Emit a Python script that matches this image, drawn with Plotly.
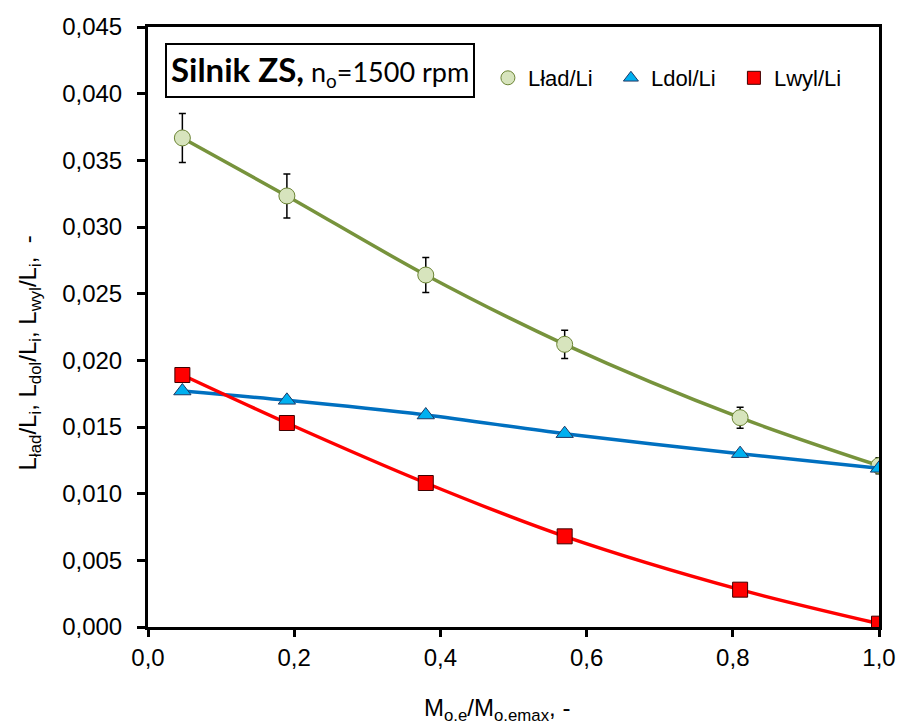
import plotly.graph_objects as go

# Relative load (M_o.e / M_o.emax)
load = [0.047, 0.19, 0.38, 0.57, 0.81, 1.0]

# Work ratios
l_lad = [0.03668, 0.03233, 0.02640, 0.02120, 0.01570, 0.01210]
l_lad_err = [0.00184, 0.00165, 0.00132, 0.00106, 0.00079, 0.00060]
l_dol = [0.01770, 0.01700, 0.01590, 0.01450, 0.01300, 0.01190]
l_wyl = [0.01890, 0.01530, 0.01080, 0.00680, 0.00280, 0.00025]

y_ticks = [0.000, 0.005, 0.010, 0.015, 0.020, 0.025, 0.030, 0.035, 0.040, 0.045]
x_ticks = [0.0, 0.2, 0.4, 0.6, 0.8, 1.0]

AX_FONT = dict(family="Liberation Sans, Arial", size=24, color="black")

GREEN, GREEN_FILL = "#77933C", "#D7E4BD"
BLUE, BLUE_FILL = "#0070C0", "#00B0F0"
RED = "#FF0000"

series = [
    ("Lład/Li", l_lad, GREEN, dict(symbol="circle", size=16, color=GREEN_FILL,
                                   line=dict(color="#6B8434", width=1))),
    ("Ldol/Li", l_dol, BLUE, dict(symbol="triangle-up", size=15, color=BLUE_FILL,
                                  line=dict(color="#1F3864", width=1))),
    ("Lwyl/Li", l_wyl, RED, dict(symbol="square", size=15, color=RED,
                                 line=dict(color="#400000", width=1))),
]

fig = go.Figure()

for name, vals, col, mk in series:
    fig.add_trace(go.Scatter(
        x=load, y=vals, name=name, showlegend=False,
        mode="lines+markers",
        line=dict(color=col, width=3.5, shape="spline", smoothing=0.9),
        marker=mk,
        error_y=(dict(type="data", array=l_lad_err, visible=True, color="black",
                      thickness=1.5, width=3.5) if vals is l_lad else None),
    ))

# Legend entries show the marker only
for name, vals, col, mk in series:
    fig.add_trace(go.Scatter(
        x=[None], y=[None], name=name, mode="markers",
        marker=dict(mk, size=mk["size"] - 2),
    ))

fig.update_layout(
    width=898, height=725,
    margin=dict(l=148, r=19, t=27, b=98, autoexpand=False),
    paper_bgcolor="white", plot_bgcolor="white",
    separators=", ",
    showlegend=True,
    legend=dict(
        orientation="h", x=0.465, xanchor="left", y=0.915, yanchor="middle",
        font=dict(family="Liberation Sans, Arial", size=22, color="black"),
        bgcolor="rgba(0,0,0,0)", itemwidth=30, entrywidth=78,
        traceorder="normal",
    ),
    font=AX_FONT,
)

fig.update_xaxes(
    range=[0, 1.0], tickvals=x_ticks, tickformat=".1f", automargin=False,
    showline=True, linecolor="black", linewidth=3, mirror=True,
    ticks="outside", ticklen=7, tickwidth=3, tickcolor="black",
    showgrid=False, zeroline=False, tickfont=AX_FONT, ticklabelstandoff=0,
)
fig.update_yaxes(
    range=[0, 0.045], tickvals=y_ticks, tickformat=".3f", automargin=False,
    showline=True, linecolor="black", linewidth=3, mirror=True,
    ticks="outside", ticklen=8, tickwidth=3, tickcolor="black",
    showgrid=False, zeroline=False, tickfont=AX_FONT, ticklabelstandoff=10,
)

# Axis titles
fig.add_annotation(
    x=0.478, y=-0.137, xref="paper", yref="paper",
    text="M<sub>o.e</sub>/M<sub>o.emax</sub>, -",
    showarrow=False, font=AX_FONT, xanchor="center", yanchor="middle",
)
fig.add_annotation(
    x=-0.162, y=0.457, xref="paper", yref="paper", textangle=-90,
    text="L<sub>ład</sub>/L<sub>i</sub>, L<sub>dol</sub>/L<sub>i</sub>, L<sub>wyl</sub>/L<sub>i</sub>,  -",
    showarrow=False, font=AX_FONT, xanchor="center", yanchor="middle",
)

# Engine label box
fig.add_annotation(
    x=0.0235, y=0.928, xref="paper", yref="paper",
    text="<b>Silnik ZS,</b><span style='font-size:27px'> n<sub>o</sub>=1500 rpm</span>",
    showarrow=False, xanchor="left", yanchor="middle",
    font=dict(family="Lato, Open Sans", size=33, color="black"),
    bordercolor="black", borderwidth=2, borderpad=4, bgcolor="white",
)

fig.write_html("out.html")
